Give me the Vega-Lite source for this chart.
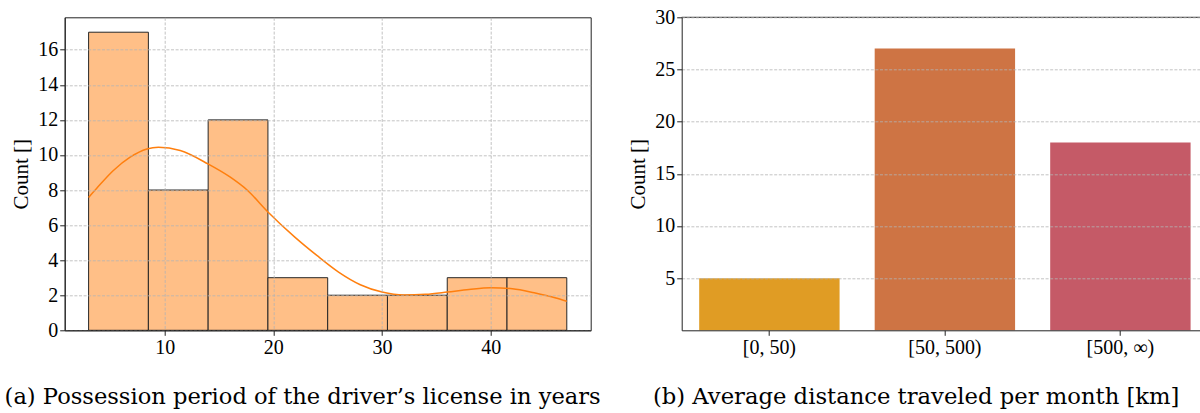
{
  "$schema": "https://vega.github.io/schema/vega-lite/v6.json",
  "background": "white",
  "padding": {"left": 2.7, "top": 7.3, "right": 0, "bottom": 0},
  "config": {
    "axis": {"labelOverlap": false, "labelPadding": 2}
  },
  "datasets": {
    "hist": [
      {"bin_start": 3, "bin_end": 8.5, "count": 17},
      {"bin_start": 8.5, "bin_end": 14, "count": 8},
      {"bin_start": 14, "bin_end": 19.5, "count": 12},
      {"bin_start": 19.5, "bin_end": 25, "count": 3},
      {"bin_start": 25, "bin_end": 30.5, "count": 2},
      {"bin_start": 30.5, "bin_end": 36, "count": 2},
      {"bin_start": 36, "bin_end": 41.5, "count": 3},
      {"bin_start": 41.5, "bin_end": 47, "count": 3}
    ],
    "kde": [
      {"x": 3, "density": 7.58},
      {"x": 3.75, "density": 8.1},
      {"x": 5.28, "density": 9.11},
      {"x": 6.82, "density": 9.87},
      {"x": 8.36, "density": 10.34},
      {"x": 9.43, "density": 10.44},
      {"x": 11.43, "density": 10.25},
      {"x": 13.98, "density": 9.49},
      {"x": 16.04, "density": 8.73},
      {"x": 17.58, "density": 8.0},
      {"x": 19.5, "density": 6.75},
      {"x": 22, "density": 5.3},
      {"x": 24, "density": 4.27},
      {"x": 26, "density": 3.32},
      {"x": 28, "density": 2.6},
      {"x": 30, "density": 2.18},
      {"x": 32, "density": 2.01},
      {"x": 34, "density": 2.05},
      {"x": 36, "density": 2.18},
      {"x": 38, "density": 2.33},
      {"x": 40, "density": 2.43},
      {"x": 42, "density": 2.37},
      {"x": 44, "density": 2.14},
      {"x": 46, "density": 1.84},
      {"x": 47, "density": 1.65}
    ],
    "dist": [
      {"range": "[0, 50)", "count": 5},
      {"range": "[50, 500)", "count": 27},
      {"range": "[500, ∞)", "count": 18}
    ]
  },
  "spacing": 91,
  "bounds": "flush",
  "hconcat": [
    {
      "width": 526,
      "height": 313,
      "view": {"stroke": "#222222", "strokeWidth": 1},
      "layer": [
        {
          "data": {"name": "hist"},
          "mark": {"type": "bar", "fill": "#ffbf87", "stroke": "#262626", "strokeWidth": 1},
          "encoding": {
            "x": {
              "field": "bin_start",
              "type": "quantitative",
              "scale": {"domain": [0.8, 49.2], "nice": false, "zero": false},
              "axis": {
                "values": [10, 20, 30, 40],
                "grid": true,
                "gridColor": "#b4b4b4", "gridDash": [3, 1.6], "gridWidth": 0.8,
                "domainColor": "#222222", "tickColor": "#222222", "tickSize": 5, "tickWidth": 1,
                "labelFont": "Liberation Serif", "labelFontSize": 20, "labelColor": "#000000", "labelPadding": 2,
                "labelOverlap": false, "zindex": 1,
                "title": "(a) Possession period of the driver’s license in years",
                "titleFont": "DejaVu Serif",
                "titleFontSize": 22.6,
                "titleFontWeight": "normal",
                "titleColor": "#000000",
                "titleAlign": "left",
                "titleX": -60.6,
                "titleY": 73,
                "titleBaseline": "alphabetic"
              }
            },
            "x2": {"field": "bin_end"},
            "y": {
              "field": "count",
              "type": "quantitative",
              "scale": {"domain": [0, 17.85], "nice": false},
              "axis": {
                "values": [0, 2, 4, 6, 8, 10, 12, 14, 16],
                "grid": true,
                "gridColor": "#b4b4b4", "gridDash": [3, 1.6], "gridWidth": 0.8,
                "domainColor": "#222222", "tickColor": "#222222", "tickSize": 5, "tickWidth": 1,
                "labelFont": "Liberation Serif", "labelFontSize": 20, "labelColor": "#000000", "labelPadding": 2,
                "labelOverlap": false, "zindex": 1,
                "title": "Count []",
                "titleFont": "Liberation Serif",
                "titleFontSize": 21,
                "titleFontWeight": "normal",
                "titleColor": "#000000",
                "titleAngle": 270,
                "titleX": -43,
                "titleY": 156.5,
                "titleAlign": "center",
                "titleBaseline": "middle"
              }
            },
            "y2": {"datum": 0}
          }
        },
        {
          "data": {"name": "kde"},
          "mark": {"type": "line", "color": "#ff7f0e", "strokeWidth": 1.5, "interpolate": "monotone"},
          "encoding": {
            "x": {"field": "x", "type": "quantitative", "axis": {"values": [10, 20, 30, 40], "labelOverlap": false, "labelFont": "Liberation Serif", "labelFontSize": 20}},
            "y": {"field": "density", "type": "quantitative", "axis": {"values": [0, 2, 4, 6, 8, 10, 12, 14, 16], "labelOverlap": false, "labelFont": "Liberation Serif", "labelFontSize": 20}}
          }
        }
      ]
    },
    {
      "width": 519,
      "height": 313,
      "view": {"stroke": null},
      "layer": [
        {
          "data": {"name": "dist"},
          "mark": {"type": "bar"},
          "encoding": {
            "x": {
              "field": "range",
              "type": "nominal",
              "sort": null,
              "scale": {"paddingInner": 0.2, "paddingOuter": 0.0786, "align": 0.634},
              "axis": {
                "labelAngle": 0,
                "grid": false,
                "domainColor": "#222222", "tickColor": "#222222", "tickSize": 5, "tickWidth": 1,
                "labelFont": "Liberation Serif", "labelFontSize": 20, "labelColor": "#000000", "labelPadding": 2,
                "labelOverlap": false, "zindex": 1,
                "title": "(b) Average distance traveled per month [km]",
                "titleFont": "DejaVu Serif",
                "titleFontSize": 22.7,
                "titleFontWeight": "normal",
                "titleColor": "#000000",
                "titleAlign": "center",
                "titleX": 234,
                "titleY": 73,
                "titleBaseline": "alphabetic"
              }
            },
            "y": {
              "field": "count",
              "type": "quantitative",
              "scale": {"domain": [0, 30], "nice": false},
              "axis": {
                "values": [5, 10, 15, 20, 25, 30],
                "grid": true,
                "gridColor": "#b4b4b4", "gridDash": [3, 1.6], "gridWidth": 0.8,
                "domainColor": "#222222", "tickColor": "#222222", "tickSize": 5, "tickWidth": 1,
                "labelFont": "Liberation Serif", "labelFontSize": 20, "labelColor": "#000000", "labelPadding": 2,
                "labelOverlap": false, "zindex": 1,
                "title": "Count []",
                "titleFont": "Liberation Serif",
                "titleFontSize": 21,
                "titleFontWeight": "normal",
                "titleColor": "#000000",
                "titleAngle": 270,
                "titleX": -43,
                "titleY": 156.5,
                "titleAlign": "center",
                "titleBaseline": "middle"
              }
            },
            "color": {
              "field": "range",
              "type": "nominal",
              "scale": {"domain": ["[0, 50)", "[50, 500)", "[500, ∞)"], "range": ["#e09c24", "#ce7444", "#c55a67"]},
              "legend": null
            }
          }
        },
        {
          "data": {"values": [{}]},
          "mark": {"type": "rule", "color": "#222222", "strokeWidth": 1},
          "encoding": {"y": {"datum": 30, "axis": {"values": [5, 10, 15, 20, 25, 30], "labelOverlap": false, "labelFont": "Liberation Serif", "labelFontSize": 20}}}
        }
      ]
    }
  ]
}
